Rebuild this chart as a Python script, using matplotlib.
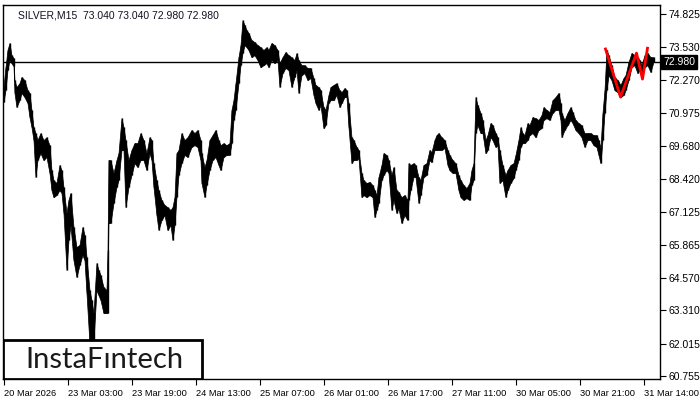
import matplotlib
matplotlib.use("Agg")
import matplotlib.pyplot as plt
from matplotlib.patches import Rectangle

# M15 bars sampled along the chart: bar index, high, low
bar_idx = [0, 2, 4, 6, 8, 10, 11, 13, 16, 18, 21, 24, 26, 28, 30, 32, 34, 37, 40, 43,
           46, 48, 50, 53, 56, 58, 60, 63, 65, 67, 70, 73, 76, 79, 81, 83, 86, 88, 90, 93,
           95, 97, 100, 103, 104, 105, 107, 110, 113, 115, 118, 120, 122, 125, 128, 131, 134, 137, 140, 143,
           146, 148, 150, 153, 155, 158, 161, 164, 167, 169, 171, 173, 175, 178, 181, 184, 188, 191, 194, 197,
           198, 201, 203, 206, 209, 212, 215, 217, 220, 223, 226, 228, 230, 232, 235, 237, 239, 241, 243, 245,
           248, 251, 254, 257, 260, 263, 265, 268, 271, 274, 276, 279, 282, 285, 288, 291, 293, 295, 298, 301,
           304, 307, 310, 312, 315, 317, 320, 322, 325, 327, 330, 333, 336, 338, 341, 343, 345, 348, 350, 353,
           355, 358, 360, 363, 366, 369, 371, 373, 375, 378, 380, 383, 385, 388, 390, 393, 395, 398, 401, 404,
           405, 407, 410, 412, 415, 417, 420, 423, 426, 428, 431, 433, 435, 438, 441, 444, 446, 449, 452, 455,
           457, 460, 463, 466, 468, 470, 472, 474, 477, 479, 482, 484, 487, 489, 492, 494, 496, 499, 502, 504,
           507, 510, 512, 515, 517, 519, 521, 524, 526, 529, 532, 535, 538, 540, 543, 546, 549, 552, 555, 557,
           558, 561, 564, 567, 569, 572, 575, 578, 581, 584, 587, 590, 593, 595, 597, 599, 601, 603, 605, 608,
           611, 614, 617, 620, 622, 625, 628, 631, 634, 636, 638, 641, 644, 647, 650]

high = [71.99, 72.76, 73.43, 73.70, 73.23, 73.12, 72.26, 71.99, 72.14, 72.38, 72.26, 71.87, 71.76, 71.10, 70.43, 70.20, 69.93, 70.20, 69.93, 70.04,
        69.73, 68.76, 68.37, 68.26, 68.96, 68.76, 68.10, 67.09, 67.60, 67.87, 66.55, 65.77, 65.85, 66.55, 66.24, 65.38, 64.10, 63.71, 63.20, 65.15,
        64.88, 64.68, 64.21, 64.10, 65.65, 69.15, 69.15, 68.65, 69.15, 69.42, 70.78, 70.43, 69.93, 69.15, 69.54, 69.81, 69.81, 70.20, 69.93, 69.42,
        70.04, 69.93, 69.03, 68.37, 67.98, 67.60, 67.40, 67.32, 67.21, 67.32, 67.71, 69.42, 69.54, 70.20, 69.93, 70.04, 70.32, 70.20, 70.32, 69.93,
        69.42, 68.88, 69.15, 69.93, 70.12, 70.32, 69.93, 69.73, 69.81, 69.73, 69.81, 71.10, 71.48, 72.14, 73.15, 73.62, 74.59, 74.40, 74.20, 74.09,
        73.81, 73.74, 73.62, 73.54, 73.43, 73.54, 73.43, 73.70, 73.62, 73.43, 72.92, 73.15, 73.35, 73.23, 73.15, 73.04, 73.31, 73.04, 72.84, 72.84,
        72.73, 72.73, 72.34, 72.07, 71.99, 71.87, 71.21, 71.10, 71.68, 71.99, 72.07, 72.14, 71.87, 71.79, 71.95, 71.87, 71.37, 70.04, 69.93, 69.66,
        69.54, 68.65, 68.37, 68.26, 68.30, 68.18, 67.98, 67.79, 68.49, 68.96, 69.42, 69.35, 69.15, 68.57, 68.88, 67.98, 67.91, 67.71, 67.79, 67.60,
        69.03, 68.96, 69.03, 68.96, 68.49, 68.37, 68.96, 69.03, 69.54, 69.46, 69.93, 70.12, 70.20, 70.04, 69.93, 69.54, 69.35, 69.15, 69.03, 68.57,
        68.37, 68.18, 68.06, 68.26, 68.76, 69.03, 71.60, 71.29, 70.98, 70.71, 69.93, 70.12, 70.59, 70.51, 70.20, 70.04, 69.54, 68.96, 68.57, 68.76,
        68.96, 69.03, 69.35, 69.93, 70.43, 70.20, 70.12, 70.59, 70.51, 70.82, 70.78, 70.71, 70.90, 71.21, 71.10, 71.02, 71.48, 71.60, 71.76, 71.37,
        70.98, 70.71, 70.98, 71.21, 71.02, 70.71, 70.59, 70.51, 70.20, 70.20, 70.20, 70.12, 70.12, 69.93, 69.62, 70.98, 71.87, 73.43, 73.23, 72.84,
        72.38, 72.26, 72.07, 72.34, 72.45, 72.96, 73.31, 73.23, 73.15, 73.04, 72.84, 73.23, 73.31, 73.15, 73.15]

low = [71.41, 71.87, 72.65, 73.04, 72.92, 72.80, 71.76, 71.21, 71.48, 71.76, 71.60, 71.37, 70.82, 70.43, 69.93, 68.49, 69.15, 69.42, 69.15, 69.27,
       68.65, 67.98, 67.71, 67.79, 67.98, 67.87, 67.09, 64.88, 66.04, 66.62, 65.26, 64.60, 65.07, 65.46, 65.26, 63.98, 62.00, 61.95, 62.10, 64.10,
       63.90, 63.71, 63.20, 63.20, 63.20, 66.70, 66.70, 67.48, 68.10, 68.37, 69.54, 69.54, 67.32, 68.10, 68.57, 69.03, 68.88, 69.15, 69.15, 68.76,
       69.42, 69.15, 68.10, 67.01, 66.43, 66.82, 67.01, 66.43, 66.62, 66.04, 66.62, 67.71, 68.57, 69.03, 69.35, 69.27, 69.66, 69.73, 69.66, 69.15,
       68.26, 67.71, 68.18, 68.76, 69.15, 69.27, 68.96, 68.76, 69.27, 69.35, 69.35, 69.81, 70.71, 71.10, 72.14, 72.84, 73.31, 73.62, 73.54, 73.43,
       73.15, 73.23, 73.04, 72.76, 72.84, 72.92, 72.76, 73.04, 72.92, 73.04, 71.99, 72.53, 72.73, 72.65, 71.99, 72.38, 72.65, 71.76, 72.45, 72.53,
       72.26, 72.34, 71.68, 71.37, 71.10, 71.29, 70.39, 70.51, 71.37, 71.48, 71.48, 71.68, 71.21, 71.37, 71.60, 71.60, 70.43, 69.03, 69.15, 69.15,
       69.23, 67.71, 67.79, 67.71, 67.79, 67.71, 66.93, 67.21, 67.48, 68.37, 68.57, 68.76, 68.65, 67.21, 67.60, 67.09, 67.28, 66.70, 67.01, 66.82,
       67.60, 67.98, 68.49, 68.49, 67.48, 67.79, 68.49, 68.57, 69.15, 69.07, 69.54, 69.54, 69.54, 69.54, 69.62, 68.96, 68.76, 68.65, 68.65, 67.98,
       67.71, 67.60, 67.67, 67.60, 68.18, 68.37, 70.20, 70.51, 70.20, 70.20, 69.42, 69.54, 70.04, 69.93, 69.66, 69.73, 68.26, 68.37, 67.71, 67.98,
       68.26, 68.45, 68.76, 69.15, 69.66, 69.81, 69.81, 69.93, 70.12, 70.20, 70.04, 70.32, 70.39, 70.71, 70.78, 70.71, 70.98, 71.10, 71.10, 70.71,
       70.04, 70.32, 70.51, 70.71, 70.59, 70.32, 70.20, 70.04, 69.66, 69.93, 69.93, 69.73, 69.66, 69.35, 69.03, 69.93, 70.98, 71.87, 72.45, 72.26,
       71.87, 71.79, 71.60, 71.68, 71.87, 72.26, 72.76, 72.84, 72.53, 72.65, 72.38, 72.76, 72.84, 72.57, 72.98]

# red pattern lines
pattern_idx = [602, 617, 633, 639, 644]
pattern_px = [73.47, 71.60, 73.31, 72.30, 73.50]

last_price = 72.98
ytick_vals = [74.825, 73.530, 72.270, 70.975, 69.680, 68.420, 67.125, 65.865, 64.570, 63.310, 62.015, 60.755]
xtick_idx = [0, 64, 128, 192, 256, 320, 384, 448, 512, 576, 640]
xtick_labels = ["20 Mar 2026", "23 Mar 03:00", "23 Mar 19:00", "24 Mar 13:00", "25 Mar 07:00",
                "26 Mar 01:00", "26 Mar 17:00", "27 Mar 11:00", "30 Mar 05:00", "30 Mar 21:00",
                "31 Mar 14:00"]
header = "SILVER,M15  73.040 73.040 72.980 72.980"

plt.rcParams['font.family'] = ['Liberation Sans', 'DejaVu Sans']

fig = plt.figure(figsize=(7, 4), dpi=100)
ax = fig.add_axes([3 / 700, 21 / 400, 657 / 700, 374 / 400])

ax.fill_between(bar_idx, low, high, color='black', lw=0.5, zorder=3)
ax.vlines(bar_idx, low, high, color='black', lw=1.0, zorder=3)
ax.axhline(last_price, color='black', lw=1, zorder=2)
ax.plot(pattern_idx, pattern_px, color='#ff0000', lw=2, zorder=4)

ax.set_xlim(-0.5, 656.5)
ax.set_ylim(60.64, 75.18)

ax.yaxis.tick_right()
ax.set_yticks(ytick_vals)
ax.set_yticklabels([f"{v:.3f}" for v in ytick_vals])
ax.set_xticks(xtick_idx)
ax.set_xticklabels(xtick_labels, ha='left')
ax.tick_params(axis='both', direction='out', length=4, width=0.8, colors='black', pad=2)
ax.tick_params(axis='y', labelsize=7.5)
ax.tick_params(axis='x', labelsize=6.7, pad=3)
for s in ax.spines.values():
    s.set_linewidth(1)
    s.set_color('black')

# current price label on the right axis
ax.text(1.005, last_price, f"{last_price:.3f}", transform=ax.get_yaxis_transform(),
        ha='left', va='center', fontsize=7.5, color='white', zorder=6, clip_on=False,
        bbox=dict(boxstyle='square,pad=0.2', fc='black', ec='black'))

ax.text(15 / 657, 0.985, header, transform=ax.transAxes, ha='left', va='top',
        fontsize=7.5, color='#111122')

# logo box
logo = Rectangle((0, 0), 199 / 657, 39 / 374, transform=ax.transAxes,
                 facecolor='white', edgecolor='black', lw=2, zorder=8)
ax.add_patch(logo)
ax.text(101 / 657, 19 / 374, "InstaFıntech", transform=ax.transAxes, ha='center', va='center',
        fontsize=21, color='#1a1a1a', family=['Lato', 'DejaVu Sans'], zorder=9)

fig.savefig("out.png", dpi=100)
